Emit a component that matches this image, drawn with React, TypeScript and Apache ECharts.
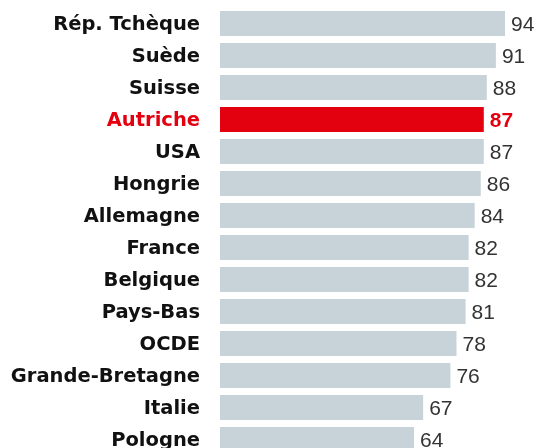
import React, { useEffect, useRef } from "react";
import * as echarts from "echarts";

const categories = [
  "Rép. Tchèque",
  "Suède",
  "Suisse",
  "Autriche",
  "USA",
  "Hongrie",
  "Allemagne",
  "France",
  "Belgique",
  "Pays-Bas",
  "OCDE",
  "Grande-Bretagne",
  "Italie",
  "Pologne",
];
const values = [94, 91, 88, 87, 87, 86, 84, 82, 82, 81, 78, 76, 67, 64];
const highlight = "Autriche";

const GRAY = "#c8d3d9";
const RED = "#e3000f";

export default function App() {
  const ref = useRef<HTMLDivElement>(null);
  useEffect(() => {
    if (!ref.current) return;
    const chart = echarts.init(ref.current, undefined, { renderer: "svg" });
    chart.setOption({
      animation: false,
      grid: { left: 220, top: 7.4, width: 303.2, height: 448, containLabel: false },
      xAxis: {
        type: "value",
        min: 0,
        max: 100,
        show: false,
      },
      yAxis: {
        type: "category",
        data: categories,
        inverse: true,
        axisLine: { show: false },
        axisTick: { show: false },
        splitLine: { show: false },
        axisLabel: {
          margin: 20,
          formatter: (v: string) => (v === highlight ? `{hl|${v}}` : `{n|${v}}`),
          rich: {
            n: {
              fontFamily: "DejaVu Sans",
              fontWeight: "bold",
              fontSize: 19.5,
              color: "#111111",
            },
            hl: {
              fontFamily: "DejaVu Sans",
              fontWeight: "bold",
              fontSize: 19.5,
              color: RED,
            },
          },
        },
      },
      series: [
        {
          type: "bar",
          barWidth: 25,
          data: values.map((v, i) =>
            categories[i] === highlight
              ? {
                  value: v,
                  itemStyle: { color: RED },
                  label: { color: RED, fontWeight: "bold" },
                }
              : { value: v }
          ),
          itemStyle: { color: GRAY },
          label: {
            show: true,
            position: "right",
            distance: 6,
            fontFamily: "Liberation Sans",
            fontSize: 21,
            color: "#333333",
          },
        },
      ],
    });
    return () => chart.dispose();
  }, []);
  return (
    <div
      ref={ref}
      style={{ position: "fixed", left: 0, top: 0, width: 541, height: 470 }}
    />
  );
}
